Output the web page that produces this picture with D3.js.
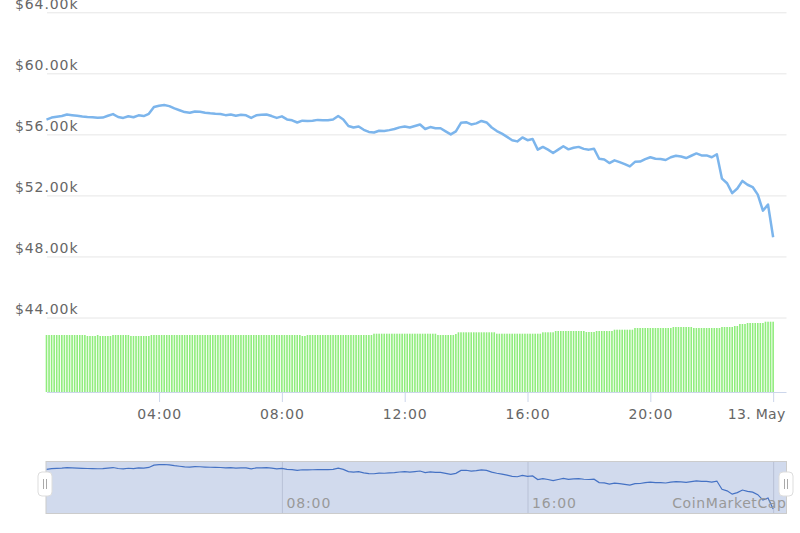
<!DOCTYPE html>
<html><head><meta charset="utf-8">
<script src="https://cdn.jsdelivr.net/npm/d3@7/dist/d3.min.js"></script>
<style>html,body{margin:0;padding:0;background:#fff}svg{display:block;font-family:"DejaVu Sans",sans-serif}</style>
</head><body><svg id="c" width="800" height="533"></svg>
<script>
// ---- data ----
const priceTicks=[44,48,52,56,60,64];               // $k
const timeTickHours=[4,8,12,16,20,24];
const timeTickLabels=["04:00","08:00","12:00","16:00","20:00","13. May"];
const navTickHours=[8,16,24];
const navTickLabels=["08:00","16:00",""];
// BTC price ($k), 10-minute steps from 00:20 on 12 May to 00:00 on 13 May
const priceK=[
56.97,57.10,57.15,57.20,57.30,57.26,57.22,57.17,57.14,57.12,
57.09,57.10,57.22,57.33,57.14,57.08,57.19,57.12,57.25,57.20,
57.35,57.80,57.88,57.92,57.85,57.70,57.58,57.46,57.42,57.50,
57.48,57.42,57.38,57.35,57.34,57.26,57.30,57.22,57.28,57.25,
57.08,57.25,57.28,57.30,57.20,57.08,57.18,56.98,56.92,56.78,
56.90,56.88,56.90,56.95,56.92,56.93,56.98,57.20,56.98,56.55,
56.45,56.52,56.30,56.16,56.12,56.24,56.22,56.28,56.35,56.46,
56.52,56.45,56.55,56.65,56.35,56.48,56.40,56.40,56.20,56.00,
56.20,56.76,56.80,56.65,56.72,56.88,56.78,56.45,56.22,56.05,
55.84,55.62,55.54,55.80,55.62,55.70,55.00,55.18,55.00,54.78,
55.00,55.22,55.02,55.12,55.18,55.05,55.00,55.06,54.40,54.35,
54.12,54.30,54.18,54.05,53.90,54.20,54.22,54.38,54.50,54.40,
54.38,54.32,54.50,54.60,54.55,54.45,54.60,54.75,54.62,54.62,
54.50,54.70,53.10,52.80,52.15,52.45,52.95,52.70,52.55,52.05,
51.00,51.40,49.26];
// 24h volume ($B), 5-minute steps from 00:20
const volumeB=[
57,57,57,57,57,57,57,57,57,57,57,57,57,57,57,57,
56,56,56,56,
57,
56,56,56,56,56,
57,57,57,57,57,57,57,
56,56,56,56,56,56,56,56,
57,57,57,57,57,57,57,57,57,57,
57,57,57,57,57,57,57,57,57,57,
57,57,57,57,57,57,57,57,57,57,
57,57,57,57,57,57,57,57,57,57,
57,57,57,57,57,57,57,57,57,57,
57,57,57,57,57,57,57,57,57,
56,56,
57,57,57,57,57,57,57,57,57,57,57,57,57,57,57,57,57,57,57,57,57,57,57,57,57,57,
58.3,58.3,58.3,58.3,58.3,58.3,58.3,58.3,58.3,58.3,58.3,58.3,58.3,58.3,58.3,58.3,58.3,58.3,58.3,58.3,58.3,58.3,58.3,58.3,58.3,
57,57,57,57,57,57,57,
58,
59.7,59.7,59.7,59.7,59.7,59.7,59.7,59.7,59.7,59.7,59.7,59.7,59.7,59.7,59.7,
58.3,58.3,58.3,58.3,58.3,58.3,58.3,58.3,58.3,58.3,58.3,58.3,58.3,58.3,58.3,58.3,58.3,58.3,
59.7,59.7,59.7,59.7,59.7,
61,61,61,61,61,61,61,61,61,61,61,61,
60,60,60,60,
61,61,61,61,61,61,61,
62.3,62.3,62.3,62.3,62.3,62.3,62.3,62.3,
64,64,64,64,64,64,64,64,64,64,64,64,64,64,64,
65,65,65,65,65,65,65,65,
64,64,64,64,64,64,64,64,64,64,64,
65,65,65,65,65,
66,66,
68,68,68,
69,69,69,69,69,69,69,
70.3,70.3,70.3,70.3];

// ---- chart ----
const svg=d3.select("#c");
svg.append("rect").attr("width",800).attr("height",533).attr("fill","#fff");
const day0=Date.UTC(2021,4,12), H=3600e3, M=60e3;
const L=47, R=786.5;
const FONT="14px", LS="0.9px";
const x=d3.scaleUtc().domain([new Date(day0+0.35*H),new Date(day0+24.435*H)]).range([L,R]);
const y=d3.scaleLinear().domain([44,64]).range([317.5,12.3]);
const vy=d3.scaleLinear().domain([0,80]).range([392,312]);
const pTimes=priceK.map((_,i)=>new Date(day0+(20+10*i)*M));
const vTimes=volumeB.map((_,i)=>new Date(day0+(20+5*i)*M));

// y gridlines + labels
const ya=svg.append("g").attr("transform",`translate(${L},0)`)
  .call(d3.axisRight(y).tickValues(priceTicks).tickSize(R-L).tickFormat(d=>"$"+d.toFixed(2)+"k"));
ya.select(".domain").remove();
ya.selectAll(".tick line").attr("stroke","#e6e6e6");
ya.selectAll(".tick text").attr("x",15-L).attr("dy",-4).attr("text-anchor","start")
  .attr("fill","#666").style("font-size",FONT).style("letter-spacing",LS).style("font-family","DejaVu Sans");

// volume bars
svg.append("g").selectAll("rect").data(volumeB).join("rect")
  .attr("x",(d,i)=>x(vTimes[i])-0.8).attr("width",1.6)
  .attr("y",d=>vy(d)).attr("height",d=>vy(0)-vy(d)).attr("fill","#90ed7d");

// price line
svg.append("path").datum(priceK).attr("fill","none").attr("stroke","#7cb5ec")
  .attr("stroke-width",2.5).attr("stroke-linejoin","round")
  .attr("d",d3.line().x((d,i)=>x(pTimes[i])).y(d=>y(d)));

// x axis
const xa=svg.append("g").attr("transform","translate(0,392)")
  .call(d3.axisBottom(x).tickValues(timeTickHours.map(h=>new Date(day0+h*H)))
    .tickSize(10).tickPadding(7).tickFormat((d,i)=>timeTickLabels[i]));
xa.select(".domain").attr("stroke","#ccd6eb").attr("d",`M${L},0.5H${R}`);
xa.selectAll(".tick line").attr("stroke","#ccd6eb");
xa.selectAll(".tick text").attr("fill","#666").style("font-size",FONT).style("letter-spacing",LS)
  .style("font-family","DejaVu Sans");
// last label kept inside the chart (right-justified)
xa.selectAll(".tick text").filter((d,i)=>i===timeTickLabels.length-1)
  .attr("text-anchor","end").attr("x",d=>785-x(d)).style("letter-spacing","0.3px");

// navigator
const nT=461, nB=514;
const ny=d3.scaleLinear().domain(d3.extent(priceK)).range([509,464.5]);
const nav=svg.append("g");
nav.append("rect").attr("x",L-1).attr("y",nT).attr("width",R-L+1).attr("height",nB-nT)
  .attr("fill","rgba(102,133,194,0.3)");
const na=nav.append("g").attr("transform",`translate(0,${nT})`)
  .call(d3.axisBottom(x).tickValues(navTickHours.map(h=>new Date(day0+h*H)))
    .tickSize(nB-nT).tickPadding(0).tickFormat((d,i)=>navTickLabels[i]));
na.select(".domain").remove();
na.selectAll(".tick line").attr("stroke","#b8c1d6");
na.selectAll(".tick text").attr("text-anchor","start").attr("x",4).attr("y",47).attr("dy",0)
  .attr("fill","#999").style("font-size",FONT).style("letter-spacing",LS).style("font-family","DejaVu Sans");
nav.append("path").datum(priceK).attr("fill","none").attr("stroke","#4572c4").attr("stroke-width",1.2)
  .attr("d",d3.line().x((d,i)=>x(pTimes[i])).y(d=>ny(d)));
nav.append("rect").attr("x",L-1).attr("y",nT+0.5).attr("width",R-L+1).attr("height",nB-nT-1)
  .attr("fill","none").attr("stroke","#cccccc");
svg.append("text").attr("x",R).attr("y",508).attr("text-anchor","end").attr("fill","#999")
  .style("font-size",FONT).style("letter-spacing","0.6px").text("CoinMarketCap");
// handles
[L-2,R-0.5].forEach(cx=>{
  const g=svg.append("g").attr("transform",`translate(${cx},484)`);
  g.append("rect").attr("x",-7).attr("y",-12).attr("width",14).attr("height",24).attr("rx",4)
    .attr("fill","#fff").attr("stroke","#ddd");
  g.append("path").attr("d","M-1.5,-5V5M1.5,-5V5").attr("stroke","#aaa").attr("stroke-width",1);
});
</script></body></html>
